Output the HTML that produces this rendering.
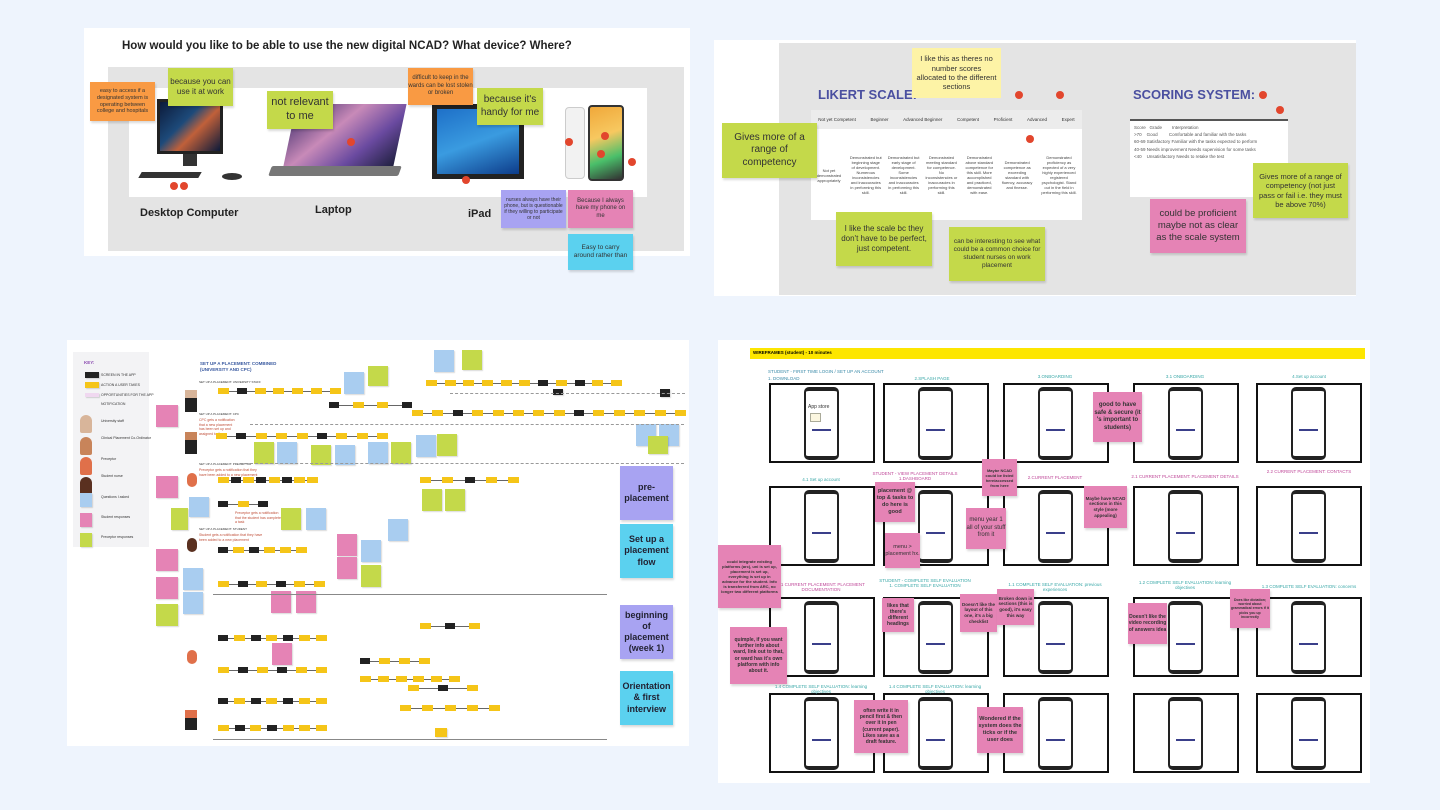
<!DOCTYPE html>
<html><head><meta charset="utf-8"><style>
*{margin:0;padding:0;box-sizing:border-box}
body{width:1440px;height:810px;background:#eef4fd;position:relative;overflow:hidden;font-family:"Liberation Sans",sans-serif}
.a{position:absolute}
.n{position:absolute;display:flex;align-items:center;justify-content:center;text-align:center;color:#333;line-height:1.25;box-shadow:1px 2px 2px rgba(0,0,0,.15)}
.g{background:#c4d94a}.o{background:#f99a43}.p{background:#e583b5}.pu{background:#a8a3f2}.c{background:#5bd1ef}.ye{background:#fdf3a6}.bl{background:#a9cdf0}
.dot{position:absolute;width:8px;height:8px;border-radius:50%;background:#e2462d}
.row{position:absolute;height:6px;display:flex;justify-content:space-between;align-items:center}
.row:before{content:"";position:absolute;left:0;right:0;top:3px;height:1px;background:#666}
.row i{position:relative;display:block;width:11px;height:6px;background:#f5c518}
.row b{position:relative;display:block;width:10px;height:6px;background:#222}
.fr{position:absolute;width:106px;height:80px;border:2px solid #111;background:#fff}
.fr .ph{position:absolute;left:33px;top:2px;width:35px;height:73px;border:2px solid #222;border-top-width:4px;border-bottom-width:4px;border-radius:5px;background:#fff}
.ph:after{content:"";position:absolute;left:6px;right:6px;top:38px;height:2px;background:#3a3f8a}
.lab{position:absolute;font-size:4.5px;color:#3aa8a8;text-align:center;width:110px}
.s{position:absolute;box-shadow:1px 1px 1px rgba(0,0,0,.15)}
.kt{position:absolute;left:101px;font-size:3.5px;color:#333}
.rt{position:absolute;font-size:3.5px;color:#c0503a;line-height:1.3}
</style></head><body>

<!-- Panel 1 -->
<div class="a" style="left:84px;top:28px;width:606px;height:228px;background:#fff"></div>
<div class="a" style="left:122px;top:40px;font-size:11.5px;font-weight:bold;color:#222">How would you like to be able to use the new digital NCAD? What device? Where?</div>
<div class="a" style="left:108px;top:67px;width:576px;height:184px;background:#e4e4e4"></div>
<div class="a" style="left:129px;top:88px;width:518px;height:109px;background:#fff"></div>
<div class="a" style="left:157px;top:99px;width:66px;height:55px;background:linear-gradient(135deg,#0c1a3a,#1d4a7a 40%,#c0603a 60%,#0c1a3a);border:3px solid #222"></div>
<div class="a" style="left:183px;top:154px;width:14px;height:12px;background:#333"></div>
<div class="a" style="left:140px;top:172px;width:60px;height:6px;background:#333;transform:skewX(-30deg)"></div>
<div class="a" style="left:222px;top:173px;width:20px;height:7px;background:#333;border-radius:50%"></div>
<div class="a" style="left:290px;top:104px;width:110px;height:62px;background:linear-gradient(135deg,#3a2a6a,#c88ab8 40%,#6a4aa0 70%,#202040);transform:skewX(-12deg)"></div>
<div class="a" style="left:270px;top:166px;width:130px;height:10px;background:#777;border-radius:2px;transform:skewX(-20deg)"></div>
<div class="a" style="left:432px;top:104px;width:92px;height:75px;background:#222;padding:5px"><div style="width:100%;height:100%;background:linear-gradient(160deg,#1e70c8,#3a9be0 50%,#0d3c8a)"></div></div>
<div class="a" style="left:565px;top:107px;width:20px;height:72px;background:#f2f2f2;border:1px solid #ccc;border-radius:4px"></div>
<div class="a" style="left:588px;top:105px;width:36px;height:76px;background:linear-gradient(160deg,#f0a83a,#f7c860 40%,#4abf6a 70%,#333);border:2px solid #333;border-radius:4px"></div>
<div class="a" style="left:140px;top:207px;font-size:11px;font-weight:bold;color:#222">Desktop Computer</div>
<div class="a" style="left:315px;top:204px;font-size:11px;font-weight:bold;color:#222">Laptop</div>
<div class="a" style="left:468px;top:208px;font-size:11px;font-weight:bold;color:#222">iPad</div>
<div class="n o" style="left:90px;top:82px;width:65px;height:39px;font-size:5.5px;padding:3px">easy to access if a designated system is operating between college and hospitals</div>
<div class="n g" style="left:168px;top:68px;width:65px;height:38px;font-size:8px">because you can use it at work</div>
<div class="n g" style="left:267px;top:91px;width:66px;height:38px;font-size:11px">not relevant to me</div>
<div class="n o" style="left:408px;top:68px;width:65px;height:37px;font-size:6px">difficult to keep in the wards can be lost stolen or broken</div>
<div class="n g" style="left:477px;top:88px;width:66px;height:37px;font-size:10px">because it's handy for me</div>
<div class="n pu" style="left:501px;top:190px;width:65px;height:38px;font-size:5px;padding:3px">nurses always have their phone, but is questionable if they willing to participate or not</div>
<div class="n p" style="left:568px;top:190px;width:65px;height:38px;font-size:6px;padding:3px">Because I always have my phone on me</div>
<div class="n c" style="left:568px;top:234px;width:65px;height:36px;font-size:6.5px;padding:3px">Easy to carry around rather than</div>
<div class="dot" style="left:170px;top:182px"></div><div class="dot" style="left:180px;top:182px"></div>
<div class="dot" style="left:347px;top:138px"></div><div class="dot" style="left:462px;top:176px"></div>
<div class="dot" style="left:565px;top:138px"></div><div class="dot" style="left:601px;top:132px"></div>
<div class="dot" style="left:597px;top:150px"></div><div class="dot" style="left:628px;top:158px"></div>

<!-- Panel 2 -->
<div class="a" style="left:714px;top:40px;width:642px;height:256px;background:#fff"></div>
<div class="a" style="left:779px;top:43px;width:577px;height:252px;background:#e4e4e4"></div>
<div class="a" style="left:818px;top:87px;font-size:13px;font-weight:bold;color:#4a4fa0">LIKERT SCALE:</div>
<div class="a" style="left:1133px;top:87px;font-size:13px;font-weight:bold;color:#4a4fa0">SCORING SYSTEM:</div>
<div class="a" style="left:811px;top:110px;width:271px;height:110px;background:#fff"></div>
<div class="a" style="left:811px;top:110px;width:271px;height:19px;background:#ececec;display:flex;justify-content:space-around;align-items:center;font-size:4.5px;color:#333">
<span>Not yet Competent</span><span>Beginner</span><span>Advanced Beginner</span><span>Competent</span><span>Proficient</span><span>Advanced</span><span>Expert</span></div>
<div class="a" style="left:811px;top:130px;width:271px;height:90px;display:flex;justify-content:space-around;align-items:center;font-size:4px;color:#444;text-align:center">
<span style="width:30px">Not yet demonstrated appropriately</span><span style="width:32px">Demonstrated but beginning stage of development. Numerous inconsistencies and inaccuracies in performing this skill.</span><span style="width:32px">Demonstrated but early stage of development. Some inconsistencies and inaccuracies in performing this skill.</span><span style="width:32px">Demonstrated meeting standard for competence. No inconsistencies or inaccuracies in performing this skill.</span><span style="width:32px">Demonstrated above standard competence for this skill. More accomplished and practiced, demonstrated with ease.</span><span style="width:32px">Demonstrated competence as exceeding standard with fluency, accuracy and finesse.</span><span style="width:40px">Demonstrated proficiency as expected of a very highly experienced registered psychologist. Stand out in the field in performing this skill.</span></div>
<div class="a" style="left:1130px;top:119px;width:158px;height:78px;background:#fff;border-top:2px solid #555;font-size:4.5px;color:#555;padding:3px 4px;line-height:1.6">
<div>Score &nbsp; Grade &nbsp;&nbsp;&nbsp;&nbsp;&nbsp;&nbsp; Interpretation</div>
<div>&gt;70 &nbsp;&nbsp; Good &nbsp;&nbsp;&nbsp;&nbsp;&nbsp;&nbsp;&nbsp; Comfortable and familiar with the tasks</div>
<div>60-69 Satisfactory Familiar with the tasks expected to perform</div>
<div>40-59 Needs improvement Needs supervision for some tasks</div>
<div>&lt;40 &nbsp;&nbsp; Unsatisfactory Needs to retake the test</div></div>
<div class="n ye" style="left:912px;top:48px;width:89px;height:50px;font-size:7.5px;padding:4px;box-shadow:none">I like this as theres no number scores allocated to the different sections</div>
<div class="n g" style="left:722px;top:123px;width:95px;height:55px;font-size:10px;padding:4px">Gives more of a range of competency</div>
<div class="n g" style="left:836px;top:212px;width:96px;height:54px;font-size:8px;padding:4px">I like the scale bc they don't have to be perfect, just competent.</div>
<div class="n g" style="left:949px;top:227px;width:96px;height:54px;font-size:6.5px;padding:4px">can be interesting to see what could be a common choice for student nurses on work placement</div>
<div class="n p" style="left:1150px;top:199px;width:96px;height:54px;font-size:9.5px;padding:4px">could be proficient maybe not as clear as the scale system</div>
<div class="n g" style="left:1253px;top:163px;width:95px;height:55px;font-size:7.5px;padding:4px">Gives more of a range of competency (not just pass or fail i.e. they must be above 70%)</div>
<div class="dot" style="left:1015px;top:91px"></div><div class="dot" style="left:1056px;top:91px"></div>
<div class="dot" style="left:1259px;top:91px"></div><div class="dot" style="left:1276px;top:106px"></div><div class="dot" style="left:1026px;top:135px"></div>

<!-- Panel 3 -->
<div class="a" style="left:67px;top:340px;width:622px;height:406px;background:#fff"></div>
<div class="a" style="left:73px;top:352px;width:76px;height:195px;background:#f3f3f5"></div>
<div class="a" style="left:84px;top:360px;font-size:4.5px;color:#8a4ab0;font-weight:bold">KEY:</div>
<div class="s" style="left:85px;top:372px;width:14px;height:6px;background:#222"></div>
<div class="s" style="left:85px;top:382px;width:14px;height:6px;background:#f5c518"></div>
<div class="s" style="left:85px;top:393px;width:14px;height:4px;background:#f0d8f0"></div>
<div class="kt" style="top:373px">SCREEN IN THE APP</div>
<div class="kt" style="top:383px">ACTION A USER TAKES</div>
<div class="kt" style="top:393px">OPPORTUNITIES FOR THE APP</div>
<div class="kt" style="top:402px">NOTIFICATION</div>
<div class="kt" style="top:419px">University staff</div>
<div class="kt" style="top:436px">Clinical Placement Co-Ordinator</div>
<div class="kt" style="top:457px">Preceptor</div>
<div class="kt" style="top:474px">Student nurse</div>
<div class="kt" style="top:495px">Questions I asked</div>
<div class="kt" style="top:515px">Student responses</div>
<div class="kt" style="top:535px">Preceptor responses</div>
<div class="a" style="left:80px;top:415px;width:12px;height:18px;border-radius:6px 6px 2px 2px;background:#d8b59a"></div>
<div class="a" style="left:80px;top:437px;width:12px;height:18px;border-radius:6px 6px 2px 2px;background:#c8845a"></div>
<div class="a" style="left:80px;top:457px;width:12px;height:18px;border-radius:6px 6px 2px 2px;background:#e0704a"></div>
<div class="a" style="left:80px;top:477px;width:12px;height:18px;border-radius:6px 6px 2px 2px;background:#5a3020"></div>
<div class="s bl" style="left:80px;top:493px;width:12px;height:14px"></div>
<div class="s p" style="left:80px;top:513px;width:12px;height:14px"></div>
<div class="s g" style="left:80px;top:533px;width:12px;height:14px"></div>
<div class="a" style="left:200px;top:361px;font-size:4.5px;color:#3a5aa0;font-weight:bold;line-height:1.4">SET UP A PLACEMENT: COMBINED<br>(UNIVERSITY AND CPC)</div>
<div class="a" style="left:199px;top:380px;font-size:3px;color:#333">SET UP A PLACEMENT: UNIVERSITY STAFF</div>
<div class="a" style="left:199px;top:412px;font-size:3px;color:#333">SET UP A PLACEMENT: CPC</div>
<div class="rt" style="left:199px;top:418px">CPC gets a notification<br>that a new placement<br>has been set up and<br>assigned to them</div>
<div class="a" style="left:199px;top:462px;font-size:3px;color:#333">SET UP A PLACEMENT: PRECEPTOR</div>
<div class="rt" style="left:199px;top:468px">Preceptor gets a notification that they<br>have been added to a new placement</div>
<div class="a" style="left:199px;top:527px;font-size:3px;color:#333">SET UP A PLACEMENT: STUDENT</div>
<div class="rt" style="left:199px;top:533px">Student gets a notification that they have<br>been added to a new placement</div>
<div class="rt" style="left:235px;top:511px">Preceptor gets a notification<br>that the student has completed<br>a task</div>
<div class="row" style="left:218px;top:388px;width:123px"><i></i><b></b><i></i><i></i><i></i><i></i><i></i></div>
<div class="row" style="left:329px;top:402px;width:83px"><b></b><i></i><i></i><b></b></div>
<div class="row" style="left:426px;top:380px;width:196px"><i></i><i></i><i></i><i></i><i></i><i></i><b></b><i></i><b></b><i></i><i></i></div>
<div class="row" style="left:412px;top:410px;width:274px"><i></i><i></i><b></b><i></i><i></i><i></i><i></i><i></i><b></b><i></i><i></i><i></i><i></i><i></i></div>
<div class="row" style="left:216px;top:433px;width:172px"><i></i><b></b><i></i><i></i><i></i><b></b><i></i><i></i><i></i></div>
<div class="row" style="left:218px;top:477px;width:100px"><i></i><b></b><i></i><b></b><i></i><b></b><i></i><i></i></div>
<div class="row" style="left:420px;top:477px;width:99px"><i></i><i></i><b></b><i></i><i></i></div>
<div class="row" style="left:218px;top:501px;width:50px"><b></b><i></i><b></b></div>
<div class="row" style="left:218px;top:547px;width:89px"><b></b><i></i><b></b><i></i><i></i><i></i></div>
<div class="row" style="left:218px;top:581px;width:107px"><i></i><b></b><i></i><b></b><i></i><i></i></div>
<div class="row" style="left:218px;top:635px;width:109px"><b></b><i></i><b></b><i></i><b></b><i></i><i></i></div>
<div class="row" style="left:218px;top:667px;width:109px"><i></i><b></b><i></i><b></b><i></i><i></i></div>
<div class="row" style="left:218px;top:698px;width:109px"><b></b><i></i><b></b><i></i><b></b><i></i><i></i></div>
<div class="row" style="left:218px;top:725px;width:109px"><i></i><b></b><i></i><b></b><i></i><i></i><i></i></div>
<div class="row" style="left:420px;top:623px;width:60px"><i></i><b></b><i></i></div>
<div class="row" style="left:360px;top:658px;width:70px"><b></b><i></i><i></i><i></i></div>
<div class="row" style="left:360px;top:676px;width:100px"><i></i><i></i><i></i><i></i><i></i><i></i></div>
<div class="row" style="left:408px;top:685px;width:70px"><i></i><b></b><i></i></div>
<div class="row" style="left:400px;top:705px;width:100px"><i></i><i></i><i></i><i></i><i></i></div>
<div class="s" style="left:435px;top:728px;width:12px;height:9px;background:#f5c518"></div>
<div class="s" style="left:553px;top:389px;width:10px;height:6px;background:#222"></div>
<div class="s" style="left:660px;top:389px;width:10px;height:8px;background:#222"></div>
<div class="a" style="left:185px;top:390px;width:12px;height:22px;background:#222;border-top:8px solid #d8b59a"></div>
<div class="a" style="left:185px;top:432px;width:12px;height:22px;background:#222;border-top:8px solid #c8845a"></div>
<div class="a" style="left:187px;top:473px;width:10px;height:14px;background:#e0704a;border-radius:5px"></div>
<div class="a" style="left:187px;top:538px;width:10px;height:14px;background:#5a3020;border-radius:5px"></div>
<div class="a" style="left:187px;top:650px;width:10px;height:14px;background:#e0704a;border-radius:5px"></div>
<div class="a" style="left:185px;top:710px;width:12px;height:20px;background:#222;border-top:8px solid #e0704a"></div>
<div class="s p" style="left:156px;top:405px;width:22px;height:22px"></div>
<div class="s p" style="left:156px;top:476px;width:22px;height:22px"></div>
<div class="s p" style="left:156px;top:549px;width:22px;height:22px"></div>
<div class="s p" style="left:156px;top:577px;width:22px;height:22px"></div>
<div class="s g" style="left:156px;top:604px;width:22px;height:22px"></div>
<div class="s g" style="left:171px;top:508px;width:17px;height:22px"></div>
<div class="s bl" style="left:189px;top:497px;width:20px;height:20px"></div>
<div class="s bl" style="left:183px;top:568px;width:20px;height:22px"></div>
<div class="s bl" style="left:183px;top:592px;width:20px;height:22px"></div>
<div class="s bl" style="left:344px;top:372px;width:20px;height:22px"></div>
<div class="s g" style="left:368px;top:366px;width:20px;height:20px"></div>
<div class="s bl" style="left:434px;top:350px;width:20px;height:22px"></div>
<div class="s g" style="left:462px;top:350px;width:20px;height:20px"></div>
<div class="s g" style="left:254px;top:442px;width:20px;height:22px"></div>
<div class="s bl" style="left:277px;top:442px;width:20px;height:22px"></div>
<div class="s g" style="left:311px;top:445px;width:20px;height:20px"></div>
<div class="s bl" style="left:335px;top:445px;width:20px;height:20px"></div>
<div class="s bl" style="left:368px;top:442px;width:20px;height:22px"></div>
<div class="s g" style="left:391px;top:442px;width:20px;height:22px"></div>
<div class="s bl" style="left:416px;top:435px;width:20px;height:22px"></div>
<div class="s g" style="left:437px;top:434px;width:20px;height:22px"></div>
<div class="s bl" style="left:636px;top:424px;width:20px;height:22px"></div>
<div class="s bl" style="left:659px;top:424px;width:20px;height:22px"></div>
<div class="s g" style="left:648px;top:436px;width:20px;height:18px"></div>
<div class="s g" style="left:422px;top:489px;width:20px;height:22px"></div>
<div class="s g" style="left:445px;top:489px;width:20px;height:22px"></div>
<div class="s g" style="left:281px;top:508px;width:20px;height:22px"></div>
<div class="s bl" style="left:306px;top:508px;width:20px;height:22px"></div>
<div class="s bl" style="left:388px;top:519px;width:20px;height:22px"></div>
<div class="s p" style="left:337px;top:534px;width:20px;height:22px"></div>
<div class="s p" style="left:337px;top:557px;width:20px;height:22px"></div>
<div class="s bl" style="left:361px;top:540px;width:20px;height:22px"></div>
<div class="s g" style="left:361px;top:565px;width:20px;height:22px"></div>
<div class="s p" style="left:271px;top:591px;width:20px;height:22px"></div>
<div class="s p" style="left:296px;top:591px;width:20px;height:22px"></div>
<div class="s p" style="left:272px;top:643px;width:20px;height:22px"></div>
<div class="a" style="left:213px;top:594px;width:394px;height:1px;background:#888"></div>
<div class="a" style="left:213px;top:739px;width:394px;height:1px;background:#888"></div>
<div class="a" style="left:450px;top:393px;width:235px;height:1px;border-top:1px dashed #999"></div>
<div class="a" style="left:250px;top:424px;width:434px;height:1px;border-top:1px dashed #999"></div>
<div class="a" style="left:240px;top:463px;width:444px;height:1px;border-top:1px dashed #999"></div>
<div class="n pu" style="left:620px;top:466px;width:53px;height:54px;font-size:9px;font-weight:bold;color:#223">pre-placement</div>
<div class="n c" style="left:620px;top:524px;width:53px;height:54px;font-size:9px;font-weight:bold;color:#223">Set up a placement flow</div>
<div class="n pu" style="left:620px;top:605px;width:53px;height:54px;font-size:9px;font-weight:bold;color:#223">beginning of placement (week 1)</div>
<div class="n c" style="left:620px;top:671px;width:53px;height:54px;font-size:9px;font-weight:bold;color:#223">Orientation &amp; first interview</div>

<!-- Panel 4 -->
<div class="a" style="left:718px;top:340px;width:652px;height:443px;background:#fff"></div>
<div class="a" style="left:750px;top:348px;width:615px;height:11px;background:#fde600;font-size:4.5px;font-weight:bold;padding:2px 3px">WIREFRAMES (student) - 10 minutes</div>
<div class="a" style="left:768px;top:368px;font-size:4.5px;color:#3a8aa8;line-height:1.6">STUDENT - FIRST TIME LOGIN / SET UP AN ACCOUNT<br>1. DOWNLOAD</div>
<div class="fr" style="left:769px;top:383px"><div class="ph" style="background:none"></div></div>
<div class="fr" style="left:883px;top:383px"><div class="ph"></div></div>
<div class="fr" style="left:1003px;top:383px"><div class="ph"></div></div>
<div class="fr" style="left:1133px;top:383px"><div class="ph"></div></div>
<div class="fr" style="left:1256px;top:383px"><div class="ph"></div></div>
<div class="fr" style="left:769px;top:486px"><div class="ph"></div></div>
<div class="fr" style="left:883px;top:486px"><div class="ph"></div></div>
<div class="fr" style="left:1003px;top:486px"><div class="ph"></div></div>
<div class="fr" style="left:1133px;top:486px"><div class="ph"></div></div>
<div class="fr" style="left:1256px;top:486px"><div class="ph"></div></div>
<div class="fr" style="left:769px;top:597px"><div class="ph"></div></div>
<div class="fr" style="left:883px;top:597px"><div class="ph"></div></div>
<div class="fr" style="left:1003px;top:597px"><div class="ph"></div></div>
<div class="fr" style="left:1133px;top:597px"><div class="ph"></div></div>
<div class="fr" style="left:1256px;top:597px"><div class="ph"></div></div>
<div class="fr" style="left:769px;top:693px"><div class="ph"></div></div>
<div class="fr" style="left:883px;top:693px"><div class="ph"></div></div>
<div class="fr" style="left:1003px;top:693px"><div class="ph" style="background:none"></div></div>
<div class="fr" style="left:1133px;top:693px"><div class="ph" style="background:none"></div></div>
<div class="fr" style="left:1256px;top:693px"><div class="ph" style="background:none"></div></div>
<div class="a" style="left:808px;top:404px;font-size:5px;color:#333">App store</div>
<div class="a" style="left:810px;top:413px;width:11px;height:9px;border:1px solid #aa9;background:#fbf6e0"></div>
<div class="lab" style="left:877px;top:376px">2.SPLASH PAGE</div>
<div class="lab" style="left:1000px;top:374px">3.ONBOARDING</div>
<div class="lab" style="left:1130px;top:374px">3.1 ONBOARDING</div>
<div class="lab" style="left:1254px;top:374px">4.Set up account</div>
<div class="lab" style="left:766px;top:477px">4.1 Set up account</div>
<div class="lab" style="left:860px;top:471px;color:#c04a9a">STUDENT - VIEW PLACEMENT DETAILS<br>1.DASHBOARD</div>
<div class="lab" style="left:1000px;top:475px;color:#c04a9a">2.CURRENT PLACEMENT</div>
<div class="lab" style="left:1130px;top:474px;color:#c04a9a">2.1 CURRENT PLACEMENT: PLACEMENT DETAILS</div>
<div class="lab" style="left:1254px;top:469px;color:#c04a9a">2.2 CURRENT PLACEMENT: CONTACTS</div>
<div class="lab" style="left:766px;top:582px;color:#c04a9a">2.1 CURRENT PLACEMENT: PLACEMENT DOCUMENTATION</div>
<div class="lab" style="left:870px;top:578px">STUDENT - COMPLETE SELF EVALUATION<br>1. COMPLETE SELF EVALUATION</div>
<div class="lab" style="left:1000px;top:582px">1.1 COMPLETE SELF EVALUATION: previous experiences</div>
<div class="lab" style="left:1130px;top:580px">1.2 COMPLETE SELF EVALUATION: learning objectives</div>
<div class="lab" style="left:1254px;top:584px">1.3 COMPLETE SELF EVALUATION: concerns</div>
<div class="lab" style="left:766px;top:684px">1.4 COMPLETE SELF EVALUATION: learning objectives</div>
<div class="lab" style="left:880px;top:684px">1.4 COMPLETE SELF EVALUATION: learning objectives</div>
<div class="n p" style="left:1093px;top:392px;width:49px;height:50px;font-size:6px;font-weight:bold">good to have safe &amp; secure (it 's important to students)</div>
<div class="n p" style="left:982px;top:459px;width:35px;height:37px;font-size:4px;font-weight:bold">Maybe NCAD could be listed here/accessed from here</div>
<div class="n p" style="left:875px;top:482px;width:40px;height:40px;font-size:5.5px;font-weight:bold">placement @ top &amp; tasks to do here is good</div>
<div class="n p" style="left:885px;top:533px;width:35px;height:35px;font-size:5.5px">menu &gt; placement hx.</div>
<div class="n p" style="left:966px;top:508px;width:40px;height:41px;font-size:6px">menu year 1 all of your stuff from it</div>
<div class="n p" style="left:1084px;top:486px;width:43px;height:42px;font-size:4.5px;font-weight:bold">Maybe have NCAD sections in this style (more appealing)</div>
<div class="n p" style="left:718px;top:545px;width:63px;height:63px;font-size:4px;font-weight:bold;padding:2px">could integrate existing platforms (arc), uni is set up, placement is set up, everything is set up in advance for the student. Info is transferred from ARC, no longer two different platforms</div>
<div class="n p" style="left:730px;top:627px;width:57px;height:57px;font-size:5px;font-weight:bold;padding:2px">quimple, if you want further info about ward, link out to that, or ward has it's own platform with info about it.</div>
<div class="n p" style="left:882px;top:598px;width:32px;height:34px;font-size:5px;font-weight:bold">likes that there's different headings</div>
<div class="n p" style="left:960px;top:594px;width:37px;height:38px;font-size:4.5px;font-weight:bold">Doesn't like the layout of this one, it's a big checklist</div>
<div class="n p" style="left:997px;top:589px;width:37px;height:36px;font-size:4.5px;font-weight:bold">Broken down in sections (this is good), it's easy this way</div>
<div class="n p" style="left:1128px;top:603px;width:39px;height:41px;font-size:5px;font-weight:bold">Doesn't like the video recording of answers idea</div>
<div class="n p" style="left:1230px;top:589px;width:40px;height:39px;font-size:3.5px;font-weight:bold">Does like dictation; worried about grammatical errors if it picks you up incorrectly</div>
<div class="n p" style="left:854px;top:700px;width:54px;height:53px;font-size:5px;font-weight:bold;padding:3px">often write it in pencil first &amp; then over it in pen (current paper). Likes save as a draft feature.</div>
<div class="n p" style="left:977px;top:707px;width:46px;height:46px;font-size:5.5px;font-weight:bold">Wondered if the system does the ticks or if the user does</div>
</body></html>
